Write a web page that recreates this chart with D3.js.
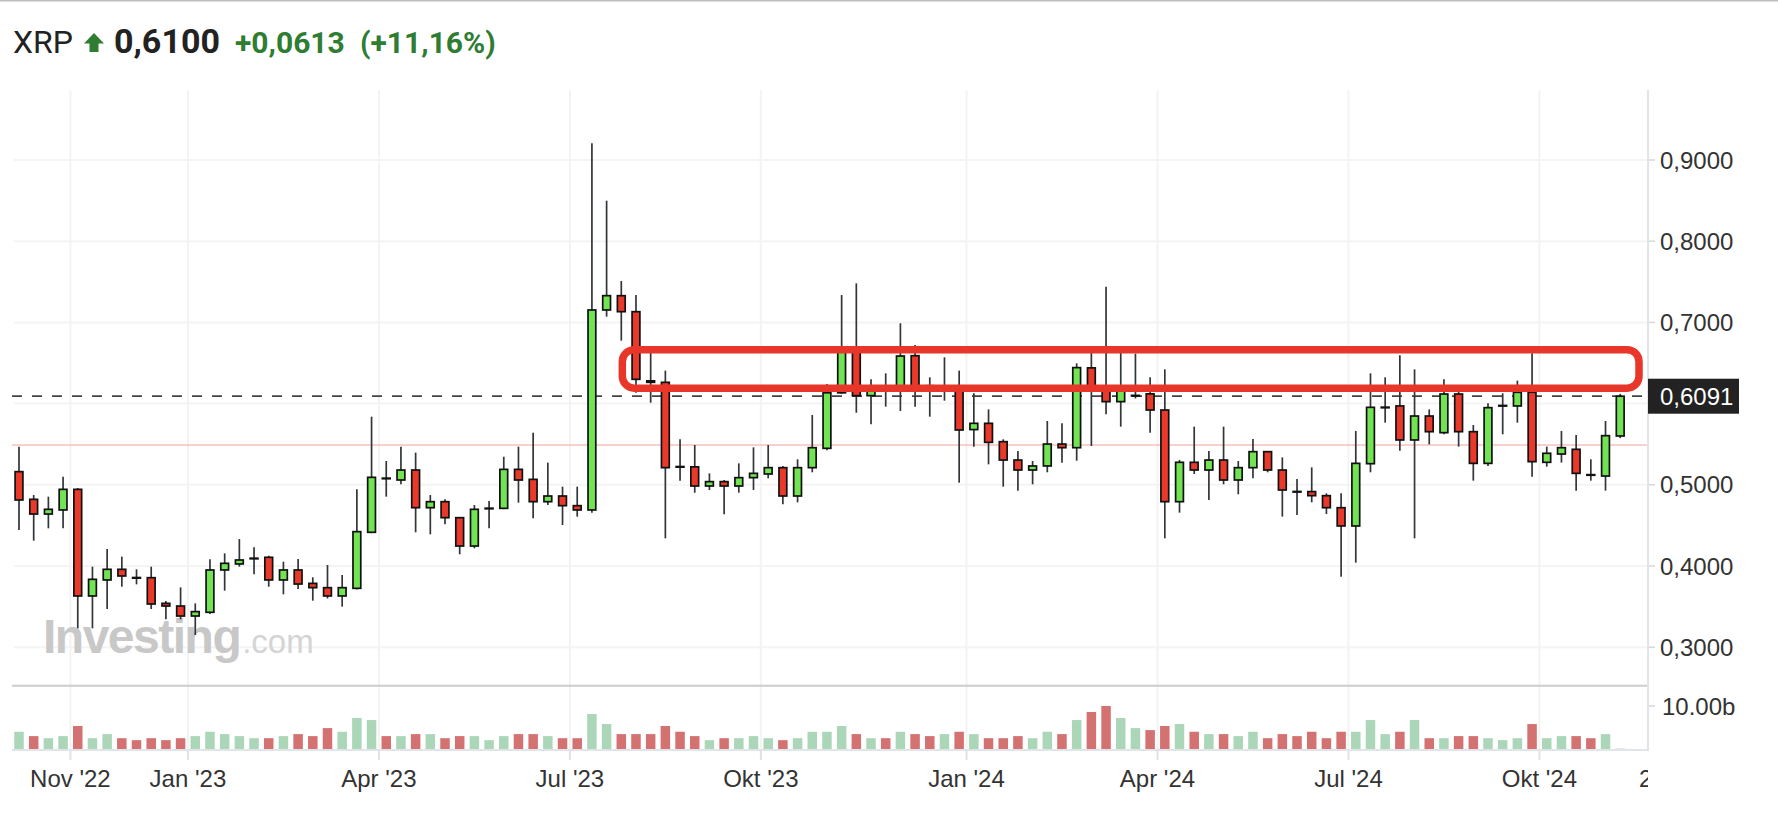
<!DOCTYPE html>
<html><head><meta charset="utf-8">
<script src="https://cdn.jsdelivr.net/npm/d3@7"></script>
<style>html,body{margin:0;padding:0;background:#fff;} svg{display:block;}</style>
</head><body>
<svg id="chart" width="1778" height="834"></svg>
<script>
// ---------- DATA (weekly XRP candles) ----------
const openP = [0.5162,0.4821,0.4640,0.4690,0.4944,0.3631,0.3828,0.3959,0.3858,0.3856,
0.3540,0.3507,0.3384,0.3430,0.3951,0.4025,0.4092,0.4107,0.3828,0.3951,
0.3786,0.3733,0.3631,0.3725,0.4415,0.5082,0.5059,0.5182,0.4718,0.4792,
0.4595,0.4246,0.4708,0.4710,0.5190,0.5067,0.4792,0.4862,0.4743,0.4690,
0.7153,0.7329,0.7132,0.6280,0.6262,0.5225,0.5221,0.4985,0.5039,0.4985,
0.5088,0.5133,0.5211,0.4862,0.5211,0.5449,0.6133,0.6650,0.6098,0.6200,
0.6200,0.6590,0.6220,0.6180,0.6200,0.5680,0.5757,0.5531,0.5305,0.5182,
0.5232,0.5502,0.5457,0.6440,0.6180,0.6024,0.6095,0.6120,0.5921,0.4792,
0.5277,0.5182,0.5305,0.5059,0.5211,0.5408,0.5182,0.4918,0.4916,0.4866,
0.4718,0.4493,0.5260,0.5952,0.5971,0.5552,0.5847,0.5642,0.6118,0.5654,
0.5264,0.5973,0.5971,0.6140,0.5277,0.5379,0.5437,0.5125,0.5108,0.5601];
const highP = [0.5470,0.4874,0.4854,0.5100,0.4960,0.3992,0.4209,0.4115,0.3959,0.3992,
0.3569,0.3737,0.3540,0.4082,0.4156,0.4332,0.4230,0.4127,0.4053,0.4086,
0.3861,0.4012,0.3889,0.4944,0.5839,0.5293,0.5470,0.5396,0.4874,0.4821,
0.4600,0.4751,0.4800,0.5346,0.5470,0.5642,0.5273,0.4977,0.4977,0.9205,
0.8499,0.7510,0.7337,0.6628,0.6406,0.5560,0.5490,0.5141,0.5060,0.5264,
0.5461,0.5490,0.5231,0.5314,0.5860,0.6241,0.7337,0.7481,0.6299,0.6373,
0.6989,0.6722,0.6324,0.6570,0.6406,0.6127,0.5929,0.5560,0.5416,0.5293,
0.5786,0.5757,0.6496,0.6680,0.7440,0.6650,0.6615,0.6324,0.6422,0.5306,
0.5716,0.5416,0.5716,0.5293,0.5564,0.5410,0.5338,0.5071,0.5215,0.4895,
0.4895,0.5663,0.6373,0.6324,0.6594,0.6422,0.5929,0.6299,0.6145,0.5737,
0.6003,0.6127,0.6283,0.6619,0.5470,0.5663,0.5613,0.5314,0.5786,0.6120];
const lowP = [0.4443,0.4312,0.4464,0.4464,0.3232,0.3232,0.3470,0.3745,0.3774,0.3470,
0.3343,0.3343,0.3150,0.3410,0.3696,0.3992,0.3897,0.3745,0.3651,0.3717,
0.3573,0.3600,0.3499,0.3710,0.4405,0.4854,0.5006,0.4415,0.4390,0.4513,
0.4144,0.4218,0.4464,0.4700,0.4780,0.4587,0.4751,0.4505,0.4608,0.4657,
0.7071,0.6775,0.6135,0.6011,0.4341,0.5051,0.4903,0.4936,0.4636,0.4903,
0.4936,0.5080,0.4760,0.4784,0.5154,0.5426,0.6120,0.5888,0.5745,0.5962,
0.5909,0.5962,0.5839,0.6036,0.5026,0.5470,0.5252,0.4977,0.4928,0.5006,
0.5154,0.5273,0.5297,0.5478,0.5868,0.5716,0.6063,0.5642,0.4341,0.4657,
0.5133,0.4813,0.5006,0.4883,0.5080,0.5154,0.4608,0.4628,0.4784,0.4640,
0.3869,0.4041,0.5154,0.5765,0.5420,0.4341,0.5498,0.5622,0.5470,0.5051,
0.5232,0.5622,0.5765,0.5100,0.5223,0.5273,0.4928,0.5051,0.4928,0.5575];
const closeP = [0.4813,0.4640,0.4698,0.4944,0.3631,0.3836,0.3959,0.3877,0.3855,0.3532,
0.3507,0.3384,0.3438,0.3951,0.4033,0.4074,0.4096,0.3828,0.3951,0.3778,
0.3733,0.3631,0.3733,0.4423,0.5092,0.5078,0.5182,0.4718,0.4792,0.4595,
0.4246,0.4698,0.4712,0.5190,0.5059,0.4792,0.4862,0.4743,0.4690,0.7153,
0.7329,0.7132,0.6299,0.6262,0.5211,0.5221,0.4985,0.5039,0.4985,0.5088,
0.5141,0.5211,0.4862,0.5211,0.5457,0.6133,0.6650,0.6098,0.6160,0.6180,
0.6586,0.6200,0.6180,0.6200,0.5675,0.5757,0.5523,0.5305,0.5182,0.5232,
0.5502,0.5457,0.6443,0.6188,0.6024,0.6190,0.6101,0.5921,0.4792,0.5277,
0.5182,0.5305,0.5059,0.5211,0.5408,0.5182,0.4936,0.4914,0.4866,0.4718,
0.4493,0.5264,0.5954,0.5956,0.5552,0.5847,0.5654,0.6118,0.5654,0.5264,
0.5950,0.5977,0.6139,0.5285,0.5388,0.5457,0.5141,0.5118,0.5605,0.6091];
// volume in billions
const volume = [4.08,3.08,2.6,3.08,5.4,2.6,3.54,2.6,2.15,2.6,
2.15,2.6,3.08,4.08,3.54,3.08,2.6,2.6,3.08,3.54,
3.08,4.92,4.08,7.23,6.77,3.08,3.08,3.54,3.54,2.6,
3.08,3.08,2.15,3.08,3.54,3.54,3.08,2.6,2.6,8.15,
5.85,3.54,3.54,3.54,5.4,4.08,3.08,2.15,2.6,2.6,
3.08,2.6,2.15,2.6,4.08,4.08,5.4,3.54,2.6,2.6,
4.08,3.54,3.08,3.54,4.08,3.54,2.6,2.6,3.08,2.6,
4.08,3.54,6.77,8.62,10.0,7.23,4.92,4.46,5.4,5.85,
4.08,3.54,3.54,3.08,4.08,2.6,3.54,3.08,4.08,2.6,
4.08,4.08,6.77,3.54,4.08,6.77,2.6,2.6,3.08,3.08,
2.6,2.15,2.6,5.85,2.6,3.08,3.08,2.6,3.54,0.2];
// volume bar direction as shown (1 = green, 0 = red)
const volumeUp = [1,0,1,1,0,1,1,0,0,0,
0,0,1,1,1,1,1,0,1,0,
0,0,1,1,1,0,1,0,1,0,
0,1,1,1,0,0,1,0,0,1,
1,0,0,0,0,0,0,1,0,1,
1,1,0,1,1,1,1,0,1,0,
1,0,0,1,0,1,0,0,0,1,
1,0,1,0,0,1,1,0,0,1,
0,1,0,1,1,0,0,0,0,0,
0,1,1,1,0,1,0,1,0,0,
1,1,1,0,1,1,0,0,1,1];
const priceTicks = [0.3,0.4,0.5,0.6,0.7,0.8,0.9];
const volumeTicks = [10];
const monthLabels = ["Nov '22","Jan '23","Apr '23","Jul '23","Okt '23","Jan '24","Apr '24","Jul '24","Okt '24"];
const monthStartIndex = [4,12,25,38,51,65,78,91,104];
const lastPrice = 0.6091;
const supportLevel = 0.549;
const zoneFromIndex = 41.07, zoneToIndex = 110.28, zoneLow = 0.619, zoneHigh = 0.6664;
const headerSymbol = "XRP", headerPrice = "0,6100", headerChange = "+0,0613", headerPct = "(+11,16%)";

// ---------- DRAWING ----------
const svg = d3.select("#chart");
const W = 1778, left = 12, axisX = 1648;
const n = closeP.length;
const x = d3.scaleLinear().domain([0, n - 1]).range([19, 19 + 14.69 * (n - 1)]);
const y = d3.scaleLinear().domain([0.3, 0.9]).range([647.2, 160]);
const yv = d3.scaleLinear().domain([0, 10]).range([749.5, 706]);
const fmt = v => d3.format(".4f")(v).replace(".", ",");
const GREEN = "#72e352", RED = "#e8392b";
const labelFont = "'Liberation Sans', Arial, sans-serif";

svg.append("rect").attr("width", W).attr("height", 834).attr("fill", "#fff");
svg.append("line").attr("x1", 0).attr("x2", W).attr("y1", 0.75).attr("y2", 0.75)
  .attr("stroke", "#bdbdbd").attr("stroke-width", 1.5);

// grid
const grid = svg.append("g");
grid.selectAll("line.h").data(priceTicks).join("line")
  .attr("x1", 14).attr("x2", axisX).attr("y1", d => y(d)).attr("y2", d => y(d))
  .attr("stroke", "#f4f4f4").attr("stroke-width", 2);
grid.selectAll("line.v").data(monthStartIndex).join("line")
  .attr("x1", d => x(d - 0.5)).attr("x2", d => x(d - 0.5))
  .attr("y1", 90).attr("y2", 750)
  .attr("stroke", "#f3f3f3").attr("stroke-width", 2);
grid.selectAll("line.vt").data(monthStartIndex).join("line")
  .attr("x1", d => x(d - 0.5)).attr("x2", d => x(d - 0.5))
  .attr("y1", 750).attr("y2", 760)
  .attr("stroke", "#dfe2e6").attr("stroke-width", 2);

// watermark
const wm = svg.append("text").attr("x", 43).attr("y", 653)
  .attr("font-family", labelFont);
wm.append("tspan").text("Investing").attr("font-size", 48).attr("font-weight", "bold")
  .attr("fill", "#c8c8c8").attr("letter-spacing", -1.5);
wm.append("tspan").text(".com").attr("font-size", 33).attr("fill", "#d4d4d4").attr("dx", 2);

// support line
svg.append("line").attr("x1", left).attr("x2", axisX)
  .attr("y1", y(supportLevel)).attr("y2", y(supportLevel))
  .attr("stroke", "#f2a39c").attr("stroke-width", 1.2);

// volume bars
svg.append("g").selectAll("rect").data(volume).join("rect")
  .attr("x", (d, i) => x(i) - 4.75).attr("width", 9.5)
  .attr("y", d => yv(d)).attr("height", d => yv(0) - yv(d))
  .attr("fill", (d, i) => volumeUp[i] ? "#acd6b8" : "#d47272");

// last price dashed line
svg.append("line").attr("x1", left).attr("x2", axisX)
  .attr("y1", y(lastPrice)).attr("y2", y(lastPrice))
  .attr("stroke", "#444").attr("stroke-width", 1.8).attr("stroke-dasharray", "10,10");

// candles
const candles = svg.append("g").selectAll("g").data(closeP).join("g");
candles.append("line")
  .attr("x1", (d, i) => x(i)).attr("x2", (d, i) => x(i))
  .attr("y1", (d, i) => y(highP[i])).attr("y2", (d, i) => y(lowP[i]))
  .attr("stroke", "#30363a").attr("stroke-width", 1.7);
candles.append("rect")
  .attr("x", (d, i) => x(i) - 3.9).attr("width", 7.8)
  .attr("y", (d, i) => y(Math.max(openP[i], d)))
  .attr("height", (d, i) => Math.max(Math.abs(y(openP[i]) - y(d)), 0.6))
  .attr("fill", (d, i) => d >= openP[i] ? GREEN : RED)
  .attr("stroke", "#111").attr("stroke-width", 1.7);

// resistance zone box
svg.append("rect")
  .attr("x", x(zoneFromIndex)).attr("y", y(zoneHigh))
  .attr("width", x(zoneToIndex) - x(zoneFromIndex)).attr("height", y(zoneLow) - y(zoneHigh))
  .attr("rx", 12).attr("fill", "none")
  .attr("stroke", "#e8362a").attr("stroke-width", 7.5);

// panel lines
svg.append("line").attr("x1", left).attr("x2", axisX).attr("y1", 685.7).attr("y2", 685.7)
  .attr("stroke", "#cccccc").attr("stroke-width", 2);
svg.append("line").attr("x1", left).attr("x2", axisX).attr("y1", 750).attr("y2", 750)
  .attr("stroke", "#e1e4e8").attr("stroke-width", 2);
svg.append("line").attr("x1", axisX).attr("x2", axisX).attr("y1", 90).attr("y2", 751)
  .attr("stroke", "#e1e4ea").attr("stroke-width", 2);

// y axis ticks + labels (the label hidden behind the last-price box is not drawn)
const ya = svg.append("g").attr("font-family", labelFont).attr("font-size", 24).attr("fill", "#333");
ya.selectAll("line").data(priceTicks).join("line")
  .attr("x1", axisX + 1).attr("x2", axisX + 7).attr("y1", d => y(d)).attr("y2", d => y(d))
  .attr("stroke", "#d5d8dc").attr("stroke-width", 1.5);
ya.selectAll("text").data(priceTicks.filter(d => Math.abs(y(d) - y(lastPrice)) > 30)).join("text")
  .attr("x", 1660).attr("y", d => y(d)).attr("dy", "0.36em").text(d => fmt(d));
// volume axis
const va = svg.append("g").attr("font-family", labelFont).attr("font-size", 24).attr("fill", "#333");
va.selectAll("line").data(volumeTicks).join("line")
  .attr("x1", axisX + 1).attr("x2", axisX + 7).attr("y1", d => yv(d)).attr("y2", d => yv(d))
  .attr("stroke", "#d5d8dc").attr("stroke-width", 1.5);
va.selectAll("text").data(volumeTicks).join("text")
  .attr("x", 1662).attr("y", d => yv(d)).attr("dy", "0.36em").text(d => d3.format(".2f")(d) + "b");

// last price label
svg.append("rect").attr("x", axisX).attr("y", y(lastPrice) - 17.5).attr("width", 91).attr("height", 35)
  .attr("fill", "#222");
svg.append("text").attr("x", 1660).attr("y", y(lastPrice)).attr("dy", "0.36em")
  .attr("font-family", labelFont).attr("font-size", 24).attr("fill", "#fff").text(fmt(lastPrice));

// x labels
const xa = svg.append("g").attr("font-family", labelFont).attr("font-size", 24).attr("fill", "#333");
xa.selectAll("text").data(monthStartIndex).join("text")
  .attr("x", d => x(d - 0.5)).attr("y", 778).attr("dy", "0.36em").attr("text-anchor", "middle")
  .text((d, i) => monthLabels[i]);
svg.append("clipPath").attr("id", "cut").append("rect").attr("x", 1600).attr("y", 760).attr("width", 48).attr("height", 40);
svg.append("text").attr("clip-path", "url(#cut)").attr("x", 1639).attr("y", 778).attr("dy", "0.36em")
  .attr("font-family", labelFont).attr("font-size", 24).attr("fill", "#333").text("2");

// header
const hf = "Roboto, 'Noto Sans', sans-serif";
svg.append("text").attr("x", 13).attr("y", 53).attr("font-family", hf).attr("font-size", 32)
  .attr("fill", "#222").text(headerSymbol);
svg.append("path").attr("d", "M94,33 L104,43.5 L98.5,43.5 L98.5,52 L89.5,52 L89.5,43.5 L84,43.5 Z")
  .attr("fill", "#2e7d32");
svg.append("text").attr("x", 114).attr("y", 53).attr("font-family", hf).attr("font-size", 34)
  .attr("font-weight", 700).attr("fill", "#222").text(headerPrice);
svg.append("text").attr("x", 235).attr("y", 53).attr("font-family", hf).attr("font-size", 30)
  .attr("font-weight", 700).attr("fill", "#2e7d32").text(headerChange);
svg.append("text").attr("x", 360).attr("y", 53).attr("font-family", hf).attr("font-size", 30)
  .attr("font-weight", 700).attr("fill", "#2e7d32").text(headerPct);
</script>
</body></html>
